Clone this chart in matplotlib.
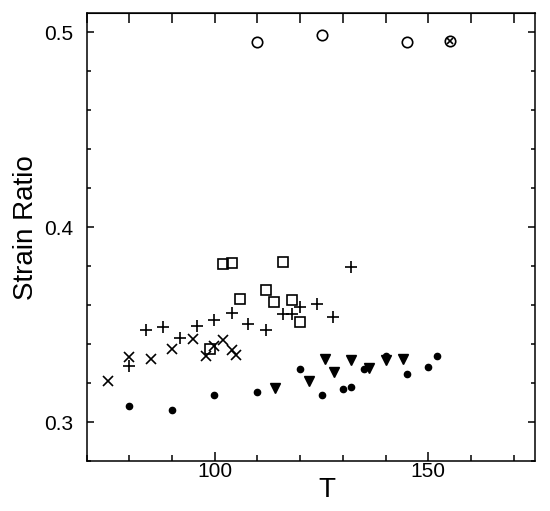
import matplotlib
matplotlib.use('Agg')
import matplotlib.pyplot as plt
from matplotlib.ticker import MultipleLocator

plt.rcParams['font.family'] = ['Liberation Sans', 'DejaVu Sans']

# open circles near 0.5
circ_T = [110, 125, 145]
circ_r = [0.4949, 0.4985, 0.4949]
# crossed circle
xcirc_T = [155]
xcirc_r = [0.4956]

# crosses
x_T = [75, 79.9, 85, 90, 95, 97.9, 99.9, 102, 104, 104.9]
x_r = [0.3212, 0.3334, 0.3325, 0.3375, 0.3427, 0.3337, 0.3392, 0.3423, 0.3368, 0.3346]

# plus signs
p_T = [79.9, 84, 87.9, 91.8, 95.9, 99.9, 104, 107.9, 112, 115.9, 118.1, 120, 123.9, 127.8, 132]
p_r = [0.3289, 0.3471, 0.3488, 0.3432, 0.3495, 0.3522, 0.356, 0.3505, 0.3474, 0.3554,
       0.3554, 0.3591, 0.3608, 0.3539, 0.3796]

# open squares
sq_T = [98.9, 102, 104, 105.9, 112, 113.9, 115.9, 118.1, 120]
sq_r = [0.3375, 0.3813, 0.3817, 0.3632, 0.3676, 0.3615, 0.3822, 0.3628, 0.3512]

# filled down triangles
tri_T = [114, 122, 125.9, 128, 132, 136.2, 140.1, 144]
tri_r = [0.3175, 0.3211, 0.3324, 0.3257, 0.3317, 0.3279, 0.3319, 0.3323]

# filled dots
dot_T = [79.9, 90, 99.9, 110, 120, 125, 130, 132, 135, 140, 145, 150, 152.1]
dot_r = [0.3084, 0.3062, 0.314, 0.3154, 0.3272, 0.3138, 0.3172, 0.3179, 0.3272, 0.3341,
         0.3246, 0.3283, 0.3341]

fig = plt.figure(figsize=(5.5, 5.11), dpi=100)
ax = fig.add_axes([0.1576, 0.0978, 0.8151, 0.8768])

ax.plot(circ_T, circ_r, 'o', mfc='none', mec='black', ms=7.5, mew=1.2, ls='none')
ax.plot(xcirc_T, xcirc_r, 'o', mfc='none', mec='black', ms=7.5, mew=1.2, ls='none')
ax.plot(xcirc_T, xcirc_r, 'x', color='black', ms=4.5, mew=1.2, ls='none')
ax.plot(x_T, x_r, 'x', color='black', ms=7, mew=1.2, ls='none')
ax.plot(p_T, p_r, '+', color='black', ms=8, mew=1.2, ls='none')
ax.plot(sq_T, sq_r, 's', mfc='none', mec='black', ms=6.5, mew=1.2, ls='none')
ax.plot(tri_T, tri_r, 'v', color='black', ms=7.5, ls='none')
ax.plot(dot_T, dot_r, 'o', color='black', ms=4.5, ls='none')

ax.set_xlim(70, 175)
ax.set_ylim(0.28, 0.51)
ax.xaxis.set_major_locator(MultipleLocator(50))
ax.xaxis.set_minor_locator(MultipleLocator(10))
ax.yaxis.set_major_locator(MultipleLocator(0.1))
ax.yaxis.set_minor_locator(MultipleLocator(0.02))

for s in ax.spines.values():
    s.set_linewidth(1.1)

ax.tick_params(axis='x', which='major', direction='in', length=6.5, width=1.1,
               top=False, labelsize=15, pad=1)
ax.tick_params(axis='x', which='minor', direction='in', length=4, width=1.1, top=False)
ax.tick_params(axis='y', which='major', direction='in', length=5, width=1.1,
               right=True, labelsize=15, pad=10)
ax.tick_params(axis='y', which='minor', direction='in', length=3, width=1.1, right=True)

top = ax.secondary_xaxis('top')
top.xaxis.set_major_locator(MultipleLocator(10))
top.tick_params(direction='in', length=7, width=1.1, labeltop=False)

ax.set_xlabel('T', fontsize=20)
ax.set_ylabel('Strain Ratio', fontsize=20)
ax.xaxis.set_label_coords(0.535, -0.035)
ax.yaxis.set_label_coords(-0.106, 0.52)

fig.savefig('out.png', dpi=100)
